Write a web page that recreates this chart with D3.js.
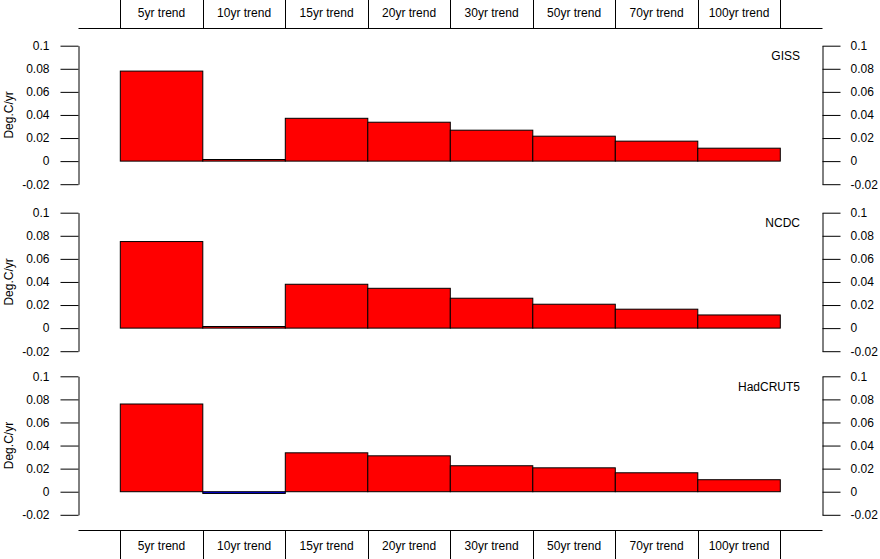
<!DOCTYPE html>
<meta charset="utf-8">
<script src="https://d3js.org/d3.v7.min.js"></script>
<style>
  body { margin: 0; background: #fff; }
  text { font-family: "Liberation Sans", Arial, sans-serif; font-size: 12px; fill: #000; }
</style>
<div id="my_dataviz"></div>
<script>

// data
var periods = ["5yr trend", "10yr trend", "15yr trend", "20yr trend", "30yr trend", "50yr trend", "70yr trend", "100yr trend"];
var datasets = ["GISS", "NCDC", "HadCRUT5"];
var giss = [0.078, 0.0014, 0.0371, 0.0337, 0.0268, 0.0216, 0.0173, 0.0112];
var ncdc = [0.075, 0.0014, 0.038, 0.0345, 0.0259, 0.0207, 0.0164, 0.0114];
var hadcrut5 = [0.076, -0.0015, 0.0337, 0.0311, 0.0225, 0.0207, 0.0164, 0.0104];
var majorTicks = [0.1, 0.08, 0.06, 0.04, 0.02, 0, -0.02];
var minorTicks = [0.09, 0.07, 0.05, 0.03, 0.01, -0.01];
var tickLabels = ["0.1", "0.08", "0.06", "0.04", "0.02", "0", "-0.02"];
var series = [giss, ncdc, hadcrut5];

var width = 880, height = 559;
var left = 78.5, right = 822.5;
var panelTops = [45.7, 212.7, 376.3];
var panelH = 138.5;

var svg = d3.select("#my_dataviz")
  .append("svg")
    .attr("width", width)
    .attr("height", height);

var x = d3.scaleBand()
  .domain(periods)
  .range([120.3, 780.3])
  .padding(0);

// header and footer strips with category labels
function strip(lineY, y0, y1, textY) {
  var g = svg.append("g");
  g.append("line")
    .attr("x1", left).attr("x2", right)
    .attr("y1", lineY).attr("y2", lineY)
    .attr("stroke", "#000");
  var edges = periods.map(function(p) { return x(p); }).concat([x.range()[1]]);
  g.selectAll("line.sep")
    .data(edges)
    .enter().append("line")
      .attr("class", "sep")
      .attr("x1", function(d) { return Math.round(d) + 0.5; })
      .attr("x2", function(d) { return Math.round(d) + 0.5; })
      .attr("y1", y0).attr("y2", y1)
      .attr("stroke", "#000");
  g.selectAll("text")
    .data(periods)
    .enter().append("text")
      .attr("x", function(d) { return x(d) + x.bandwidth() / 2; })
      .attr("y", textY)
      .style("text-anchor", "middle")
      .text(function(d) { return d; });
}
strip(28.5, 0, 28.5, 16.5);
strip(530.5, 530.5, 559, 550);

series.forEach(function(vals, i) {
  var top = panelTops[i];
  var y = d3.scaleLinear()
    .domain([-0.02, 0.1])
    .range([top + panelH, top]);

  var g = svg.append("g");

  // bars
  g.selectAll("rect")
    .data(vals)
    .enter()
    .append("rect")
      .attr("x", function(d, j) { return x(periods[j]); })
      .attr("y", function(d) { return y(Math.max(0, d)); })
      .attr("width", x.bandwidth())
      .attr("height", function(d) { return Math.abs(y(d) - y(0)); })
      .attr("fill", function(d) { return d < 0 ? "#0000ff" : "#ff0000"; })
      .attr("stroke", "#000")
      .attr("stroke-width", 1);

  // left axis
  var la = g.append("g").attr("transform", "translate(" + left + ",0)");
  la.call(d3.axisLeft(y).tickValues(minorTicks).tickSize(8).tickSizeOuter(0).tickFormat(""));
  la.call(d3.axisLeft(y).tickValues(majorTicks).tickSize(18).tickSizeOuter(0).tickPadding(11)
    .tickFormat(function(d, k) { return tickLabels[k]; }));

  // right axis
  var ra = g.append("g").attr("transform", "translate(" + right + ",0)");
  ra.call(d3.axisRight(y).tickValues(minorTicks).tickSize(8).tickSizeOuter(0).tickFormat(""));
  ra.call(d3.axisRight(y).tickValues(majorTicks).tickSize(18).tickSizeOuter(0).tickPadding(10)
    .tickFormat(function(d, k) { return tickLabels[k]; }));

  g.selectAll(".tick text")
    .style("font-family", "'Liberation Sans', Arial, sans-serif")
    .style("font-size", "12px")
    .attr("fill", "#000");
  g.selectAll(".domain, .tick line").attr("stroke", "#000");

  // dataset name
  g.append("text")
    .attr("x", 800)
    .attr("y", top + 14.5)
    .style("text-anchor", "end")
    .text(datasets[i]);

  // y axis title
  g.append("text")
    .attr("transform", "translate(13," + (top + panelH / 2) + ")rotate(-90)")
    .style("text-anchor", "middle")
    .text("Deg.C/yr");
});

</script>
